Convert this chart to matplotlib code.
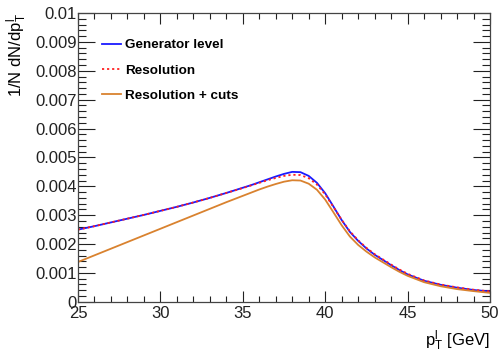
import matplotlib
matplotlib.use("Agg")
import matplotlib.pyplot as plt
from matplotlib.ticker import MultipleLocator

plt.rcParams['font.family'] = ['Liberation Sans', 'DejaVu Sans']
plt.rcParams['mathtext.fontset'] = 'custom'
plt.rcParams['mathtext.rm'] = 'Liberation Sans'
plt.rcParams['mathtext.it'] = 'Liberation Sans'

pt = [25, 26, 27, 28, 29, 30, 31, 32, 33, 34, 35, 35.5, 36, 36.5, 37, 37.5, 38, 38.5, 39, 39.5,
      40, 40.5, 41, 41.5, 42, 42.5, 43, 43.5, 44, 44.5, 45, 46, 47, 48, 49, 50]

gen = [0.00250, 0.00262, 0.00275, 0.00288, 0.00301, 0.00315, 0.00329, 0.00344, 0.00360,
       0.00377, 0.00395, 0.00404, 0.00414, 0.00424, 0.00434, 0.00443, 0.00450, 0.00449,
       0.00436, 0.00412, 0.00376, 0.00330, 0.00283, 0.00242, 0.00211, 0.00185, 0.00163,
       0.00145, 0.00127, 0.00110, 0.00095, 0.00073, 0.00059, 0.00049, 0.00041, 0.00036]

res = [0.00250, 0.00262, 0.00275, 0.00288, 0.00301, 0.00315, 0.00329, 0.00344, 0.00360,
       0.00377, 0.00394, 0.00403, 0.00412, 0.00421, 0.00429, 0.00436, 0.00440, 0.00439,
       0.00428, 0.00406, 0.00372, 0.00328, 0.00284, 0.00244, 0.00213, 0.00187, 0.00165,
       0.00147, 0.00129, 0.00112, 0.00097, 0.00074, 0.00060, 0.00050, 0.00042, 0.00036]

cuts = [0.00138, 0.00161, 0.00184, 0.00207, 0.00230, 0.00253, 0.00276, 0.00299, 0.00322,
        0.00345, 0.00367, 0.00378, 0.00389, 0.00399, 0.00408, 0.00416, 0.00421, 0.00420,
        0.00409, 0.00388, 0.00354, 0.00310, 0.00265, 0.00226, 0.00197, 0.00174, 0.00154,
        0.00137, 0.00120, 0.00104, 0.00090, 0.00068, 0.00054, 0.00044, 0.00037, 0.00031]

fig = plt.figure(figsize=(5.0, 3.53), dpi=100)
ax = fig.add_axes([0.156, 0.145, 0.824, 0.818])

ax.plot(pt, gen, color='#1a1aff', lw=1.3, label='Generator level')
ax.plot(pt, res, color='#ff2020', lw=1.3, ls=(0, (1.2, 1.6)), label='Resolution')
ax.plot(pt, cuts, color='#d9822f', lw=1.3, label='Resolution + cuts')

ax.set_xlim(25, 50)
ax.set_ylim(0, 0.01)
ax.xaxis.set_major_locator(MultipleLocator(5))
ax.xaxis.set_minor_locator(MultipleLocator(1))
ax.yaxis.set_major_locator(MultipleLocator(0.001))
ax.yaxis.set_minor_locator(MultipleLocator(0.0002))
ax.yaxis.set_major_formatter(matplotlib.ticker.FuncFormatter(
    lambda v, p: '0' if abs(v) < 1e-12 else ('%.3f' % v).rstrip('0')))

ax.tick_params(which='both', direction='in', top=True, right=True,
               labelsize=12, colors='#222222', width=0.8)
ax.tick_params(axis='y', pad=1)
ax.tick_params(axis='x', pad=3)
ax.tick_params(which='major', axis='y', length=12)
ax.tick_params(which='minor', axis='y', length=6)
ax.tick_params(which='major', axis='x', length=8)
ax.tick_params(which='minor', axis='x', length=4)
for s in ax.spines.values():
    s.set_color('#444444')
    s.set_linewidth(0.9)

ax.set_ylabel(r'1/N dN/dp$_{\mathrm{T}}^{\mathrm{l}}$', fontsize=12, loc='top', labelpad=4)
ax.set_xlabel(r'p$_{\mathrm{T}}^{\mathrm{l}}$ [GeV]', fontsize=12, loc='right', labelpad=5.5)

leg = ax.legend(loc='upper left', bbox_to_anchor=(0.03, 0.952), frameon=False,
                handlelength=1.4, handletextpad=0.3, labelspacing=0.95,
                prop={'weight': 'bold', 'size': 9.7})

fig.savefig('out.png', dpi=100)
